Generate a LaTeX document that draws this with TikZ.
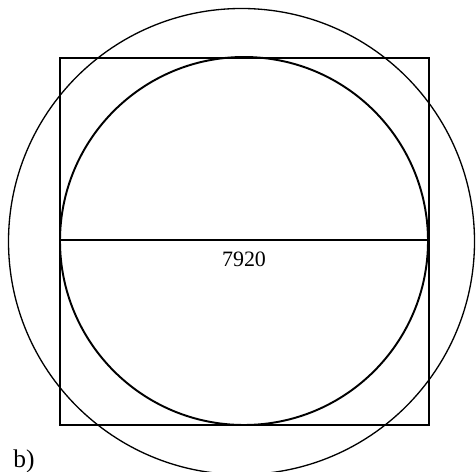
\documentclass[tikz,border=0pt]{standalone}
\usepackage{fontspec}
\setmainfont{Liberation Serif}
\usetikzlibrary{positioning}

\begin{document}
\begin{tikzpicture}[
  x=0.02cm, y=-0.02cm,
  thickline/.style={line width=1.1pt, draw=black},
  thinline/.style={line width=0.75pt, draw=black},
  figlabel/.style={font=\fontsize{14.5}{16}\selectfont, inner sep=0pt},
  dimlabel/.style={font=\fontsize{12.5}{14}\selectfont, inner sep=0pt},
]
\useasboundingbox (0,0) rectangle (476,472);
\clip (0,0) rectangle (476,472);

\coordinate (ctr) at (244,241);
\coordinate (outerctr) at (241.5,241.5);
\draw[thickline] (60,58) rectangle (429,425);
\draw[thickline] (ctr) circle[radius=184];
\draw[thinline] (outerctr) circle[radius=233];

\coordinate (dleft) at (60,240);
\coordinate (dright) at (428,240);
\draw[thickline] (dleft) -- (dright);
\node[dimlabel, below=6pt of ctr] (diam) {7920};

\node[figlabel, anchor=base west] (tag) at (13,467) {b)};
\end{tikzpicture}
\end{document}
